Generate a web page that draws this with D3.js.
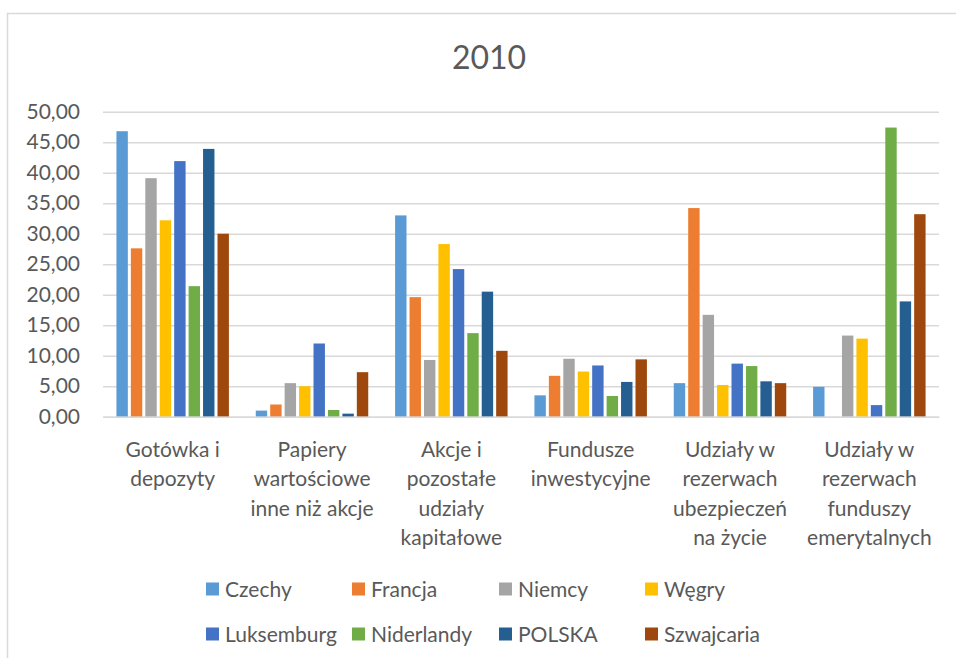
<!DOCTYPE html>
<html>
<head>
<meta charset="utf-8">
<script src="https://cdn.jsdelivr.net/npm/d3@7"></script>
<style>
  html, body { margin: 0; padding: 0; background: #fff; }
  svg { display: block; font-family: Lato, "Noto Sans", sans-serif; }
</style>
</head>
<body>
<svg id="chart" width="956" height="658"></svg>
<script>
// Asset structure by category, 2010 (%)
const title = "2010";
const categories = [
  "Gotówka i\ndepozyty",
  "Papiery\nwartościowe\ninne niż akcje",
  "Akcje i\npozostałe\nudziały\nkapitałowe",
  "Fundusze\ninwestycyjne",
  "Udziały w\nrezerwach\nubezpieczeń\nna życie",
  "Udziały w\nrezerwach\nfunduszy\nemerytalnych"
];
const seriesNames = ["Czechy", "Francja", "Niemcy", "Węgry", "Luksemburg", "Niderlandy", "POLSKA", "Szwajcaria"];
const seriesColors = ["#5B9BD5", "#ED7D31", "#A5A5A5", "#FFC000", "#4472C4", "#70AD47", "#255E91", "#9E480E"];

// one array per country, in category order
const czechy     = [46.8, 1.0, 33.0, 3.5, 5.5, 4.9];
const francja    = [27.6, 2.0, 19.6, 6.7, 34.2, 0.0];
const niemcy     = [39.1, 5.5, 9.3, 9.5, 16.7, 13.3];
const wegry      = [32.2, 5.0, 28.3, 7.4, 5.2, 12.8];
const luksemburg = [41.9, 12.0, 24.2, 8.4, 8.7, 1.9];
const niderlandy = [21.4, 1.1, 13.7, 3.4, 8.3, 47.4];
const polska     = [43.9, 0.5, 20.5, 5.7, 5.8, 18.9];
const szwajcaria = [30.0, 7.3, 10.8, 9.4, 5.5, 33.2];
const seriesValues = [czechy, francja, niemcy, wegry, luksemburg, niderlandy, polska, szwajcaria];

const yTicks = [0, 5, 10, 15, 20, 25, 30, 35, 40, 45, 50];
const fmt = v => v.toFixed(2).replace(".", ",");

const svg = d3.select("#chart");
const textColor = "#595959";
const gridColor = "#D9D9D9";

// chart frame
svg.append("rect")
  .attr("x", 7.5).attr("y", 13.5)
  .attr("width", 1000).attr("height", 700)
  .attr("fill", "#fff")
  .attr("stroke", gridColor).attr("stroke-width", 1.5);

const plot = { left: 103, right: 939, top: 111.7, bottom: 416.7 };

const x0 = d3.scaleBand().domain(categories).range([plot.left, plot.right]).padding(0);
const x1 = d3.scaleBand().domain(seriesNames).range([0, x0.bandwidth()])
  .paddingInner(0.21).paddingOuter(0.93);
const y = d3.scaleLinear().domain([0, 50]).range([plot.bottom, plot.top]);

// title
svg.append("text")
  .attr("x", 489).attr("y", 68.5)
  .attr("text-anchor", "middle")
  .attr("font-size", 32)
  .attr("fill", textColor)
  .text(title);

// gridlines and value axis
const yAxis = d3.axisLeft(y).tickValues(yTicks).tickFormat(fmt)
  .tickSize(-(plot.right - plot.left)).tickPadding(23);
const gy = svg.append("g")
  .attr("transform", `translate(${plot.left},0)`)
  .call(yAxis);
gy.select(".domain").remove();
gy.selectAll(".tick line").attr("stroke", gridColor).attr("stroke-width", 1.5);
gy.selectAll(".tick text")
  .attr("fill", textColor)
  .attr("font-size", 21)
  .attr("font-family", "Lato, 'Noto Sans', sans-serif");

// bars
const groups = svg.append("g").selectAll("g")
  .data(categories)
  .join("g")
  .attr("transform", d => `translate(${x0(d)},0)`);

groups.selectAll("rect")
  .data((c, ci) => seriesNames.map((s, si) => ({ s, si, v: seriesValues[si][ci] })))
  .join("rect")
  .filter(d => d.v > 0)
  .attr("x", d => x1(d.s))
  .attr("width", x1.bandwidth())
  .attr("y", d => y(d.v))
  .attr("height", d => y(0) - y(d.v))
  .attr("fill", d => seriesColors[d.si]);

// category axis
const xAxis = d3.axisBottom(x0).tickSize(0).tickFormat("");
const gx = svg.append("g")
  .attr("transform", `translate(0,${plot.bottom})`)
  .call(xAxis);
gx.select(".domain").attr("stroke", gridColor).attr("stroke-width", 1.5);

const lineH = 29.5;
gx.selectAll(".tick").each(function(d) {
  const t = d3.select(this).append("text")
    .attr("fill", textColor)
    .attr("font-size", 21)
    .attr("font-family", "Lato, 'Noto Sans', sans-serif")
    .attr("text-anchor", "middle");
  d.split("\n").forEach((line, i) => {
    t.append("tspan").attr("x", 0).attr("y", 40 + i * lineH).text(line);
  });
});

// legend
const legendCols = [206, 352, 499, 645];
const legendRows = [589, 634];
const legend = svg.append("g").selectAll("g")
  .data(seriesNames)
  .join("g")
  .attr("transform", (d, i) => `translate(${legendCols[i % 4]},${legendRows[Math.floor(i / 4)]})`);
legend.append("rect")
  .attr("x", 0).attr("y", -6.5).attr("width", 13).attr("height", 13)
  .attr("fill", (d, i) => seriesColors[i]);
legend.append("text")
  .attr("x", 19).attr("y", 7.5)
  .attr("font-size", 21)
  .attr("fill", textColor)
  .text(d => d);
</script>
</body>
</html>
